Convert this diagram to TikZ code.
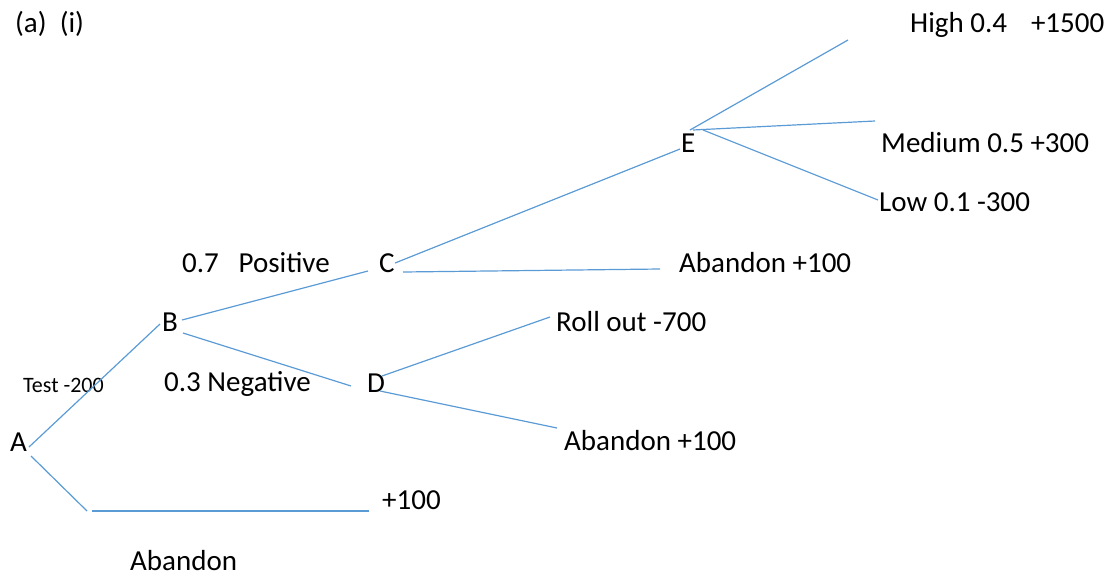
\documentclass[tikz,border=0pt]{standalone}
\usepackage{fontspec}
\setmainfont{Carlito}
\definecolor{lineblue}{RGB}{91,155,213}
\begin{document}
\begin{tikzpicture}[x=1pt,y=-1pt,
  txt/.style={inner sep=0pt,anchor=base west,font=\fontsize{29}{34}\selectfont},
  smalltxt/.style={inner sep=0pt,anchor=base west,font=\fontsize{22}{26}\selectfont},
  branch/.style={draw=lineblue,line width=1.2pt}]
\useasboundingbox (0,0) rectangle (1112,576);
% labels
\node[txt] (title) at (15,32) {(a)\ \ (i)};
\node[txt] (A) at (10,451) {A};
\node[txt] (B) at (162,331) {B};
\node[txt] (C) at (379,272) {C};
\node[txt] (D) at (367,392) {D};
\node[txt] (E) at (681,152) {E};
\node[smalltxt] (test) at (23,392) {Test -200};
\node[txt] (pos) at (182,272) {0.7\ \ \ Positive};
\node[txt] (neg) at (164,391) {0.3 Negative};
\node[txt] (high) at (910,32) {High 0.4\hspace{24pt}+1500};
\node[txt] (med) at (881,152) {Medium 0.5 +300};
\node[txt] (low) at (879,211) {Low 0.1 -300};
\node[txt] (abC) at (679,272) {Abandon +100};
\node[txt] (roll) at (556,331) {Roll out -700};
\node[txt] (abD) at (564,450) {Abandon +100};
\node[txt] (plus) at (382,509) {+100};
\node[txt] (abA) at (130,570) {Abandon};
% connector end points
\coordinate (a1) at (29,447);  \coordinate (b0) at (160,324);
\coordinate (a2) at (31,456);  \coordinate (a3) at (87,511);
\coordinate (a4) at (92,511);  \coordinate (a5) at (369,511);
\coordinate (b1) at (182,320); \coordinate (c0) at (368,271);
\coordinate (b2) at (183,333); \coordinate (d0) at (351,386);
\coordinate (c1) at (395,263); \coordinate (e0) at (680,149);
\coordinate (c2) at (403,272); \coordinate (c3) at (660,269);
\coordinate (d1) at (382,376); \coordinate (d2) at (550,317);
\coordinate (d3) at (380,391); \coordinate (d4) at (557,428);
\coordinate (e1) at (690,130); \coordinate (e2) at (848,40);
\coordinate (e3) at (693,130); \coordinate (e4) at (875,121);
\coordinate (e5) at (703,130); \coordinate (e6) at (878,200);
% connectors
\draw[branch] (a1) -- (b0);
\draw[branch] (a2) -- (a3);
\draw[branch] (a4) -- (a5);
\draw[branch] (b1) -- (c0);
\draw[branch] (b2) -- (d0);
\draw[branch] (c1) -- (e0);
\draw[branch] (c2) -- (c3);
\draw[branch] (d1) -- (d2);
\draw[branch] (d3) -- (d4);
\draw[branch] (e1) -- (e2);
\draw[branch] (e3) -- (e4);
\draw[branch] (e5) -- (e6);
\end{tikzpicture}
\end{document}
